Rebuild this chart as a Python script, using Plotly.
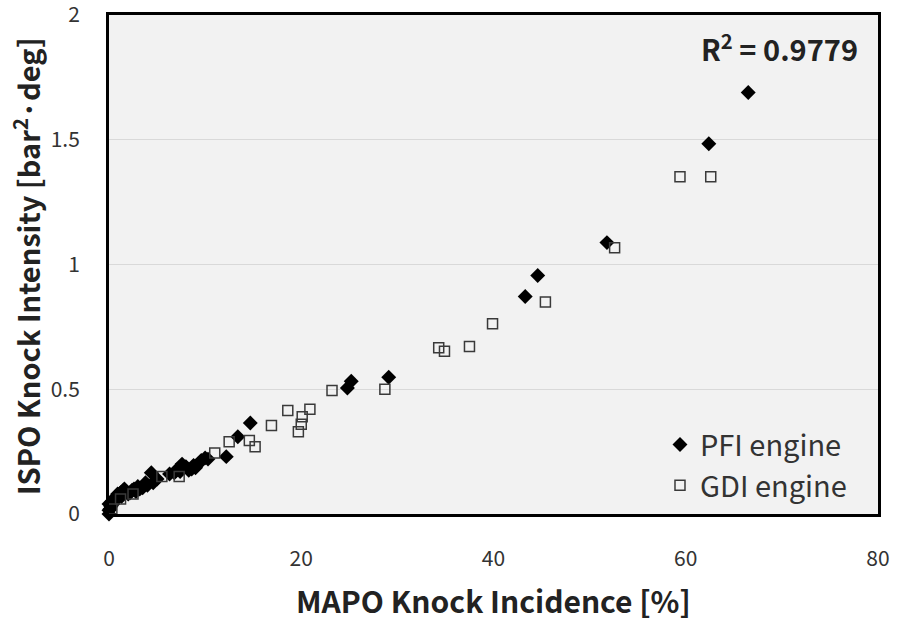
import plotly.graph_objects as go

# MAPO knock incidence [%] vs ISPO knock intensity [bar^2·deg]
pfi_x = [0.0, 0.0, 0.1, 0.0, 0.2, 0.3, 0.4, 0.5, 0.6, 0.8, 0.9, 1.0, 1.2, 1.3,
         1.5, 1.6, 1.8, 2.0, 2.2, 2.4, 2.6, 2.8, 3.0, 3.2, 3.5, 3.8, 4.0, 4.4,
         4.6, 5.0, 6.3, 6.8, 7.0, 7.6, 7.4, 8.0, 8.3, 8.6, 8.8, 9.0, 9.3, 9.6,
         10.0, 10.3, 12.2, 13.4, 14.7, 24.8, 25.2, 29.1, 43.3, 44.6, 51.8,
         62.4, 66.5]
pfi_y = [0.0, 0.015, 0.02, 0.04, 0.03, 0.05, 0.04, 0.05, 0.065, 0.06, 0.08,
         0.075, 0.085, 0.07, 0.095, 0.10, 0.09, 0.08, 0.085, 0.095, 0.10, 0.09,
         0.11, 0.10, 0.105, 0.125, 0.115, 0.165, 0.125, 0.14, 0.16, 0.165,
         0.175, 0.20, 0.17, 0.19, 0.175, 0.18, 0.195, 0.185, 0.20, 0.215,
         0.225, 0.22, 0.23, 0.31, 0.365, 0.505, 0.532, 0.548, 0.872, 0.956,
         1.088, 1.484, 1.69]

gdi_x = [0.3, 1.2, 2.5, 5.5, 7.3, 11.0, 12.5, 14.6, 15.2, 16.9, 18.6, 19.7,
         20.0, 20.1, 20.9, 23.2, 28.7, 34.3, 34.9, 37.5, 39.9, 45.4, 52.6,
         59.4, 62.6]
gdi_y = [0.02, 0.06, 0.08, 0.15, 0.15, 0.245, 0.29, 0.295, 0.27, 0.355, 0.415,
         0.33, 0.36, 0.39, 0.42, 0.495, 0.50, 0.667, 0.652, 0.672, 0.763, 0.85,
         1.067, 1.352, 1.352]

series_names = ["PFI engine", "GDI engine"]
r_squared = 0.9779

x_ticks = [0, 20, 40, 60, 80]
y_ticks = [0, 0.5, 1, 1.5, 2]

FONT = "Noto Sans CJK KR"

fig = go.Figure()
fig.add_trace(go.Scatter(
    x=pfi_x, y=pfi_y, mode="markers", name=series_names[0], cliponaxis=False,
    marker=dict(symbol="diamond", size=11.5, color="black",
                line=dict(width=0)),
))
fig.add_trace(go.Scatter(
    x=gdi_x, y=gdi_y, mode="markers", name=series_names[1], cliponaxis=False,
    marker=dict(symbol="square-open", size=10, color="#3a3a3a",
                line=dict(width=1.5, color="#3a3a3a")),
))

fig.update_layout(
    width=900, height=621,
    margin=dict(l=109, r=22, t=15, b=107, autoexpand=False),
    paper_bgcolor="white",
    plot_bgcolor="#f2f2f2",
    font=dict(family=FONT, color="#333333"),
    showlegend=True,
    legend=dict(
        x=0.7165, y=0.19, xanchor="left", yanchor="top",
        bgcolor="rgba(0,0,0,0)",
        font=dict(family=FONT, size=29, color="#333333"),
        itemsizing="trace",
    ),
    xaxis=dict(
        range=[0, 80], tickvals=x_ticks, ticktext=[str(v) for v in x_ticks],
        showgrid=False, zeroline=False, automargin=False,
        showline=True, linecolor="black", linewidth=3, mirror=True,
        ticks="", ticklabelstandoff=24, ticklabeloverflow="allow",
        tickfont=dict(family=FONT, size=21, color="#333333"),
    ),
    yaxis=dict(
        range=[0, 2.0005], tickvals=y_ticks,
        ticktext=["0", "0.5", "1", "1.5", "2"],
        showgrid=True, gridcolor="#d9d9d9", gridwidth=1, zeroline=False,
        automargin=False,
        showline=True, linecolor="black", linewidth=3, mirror=True,
        ticks="", ticklabelstandoff=22, ticklabeloverflow="allow",
        tickfont=dict(family=FONT, size=21, color="#333333"),
    ),
    annotations=[
        dict(text="MAPO Knock Incidence [%]", xref="paper", yref="paper",
             x=0.5, y=-0.172, xanchor="center", yanchor="middle",
             showarrow=False,
             font=dict(family=FONT, size=30, color="#222222", weight="bold")),
        dict(text="ISPO Knock Intensity [bar<sup>2</sup>·deg]",
             xref="paper", yref="paper", x=-0.108, y=0.497,
             xanchor="center", yanchor="middle", textangle=-90,
             showarrow=False,
             font=dict(family=FONT, size=29, color="#222222", weight="bold")),
        dict(text=f"R<sup>2</sup> = {r_squared}", xref="paper", yref="paper",
             x=0.976, y=0.936, xanchor="right", yanchor="middle",
             showarrow=False,
             font=dict(family=FONT, size=29, color="#222222", weight="bold")),
    ],
)

fig.write_html("out.html")
